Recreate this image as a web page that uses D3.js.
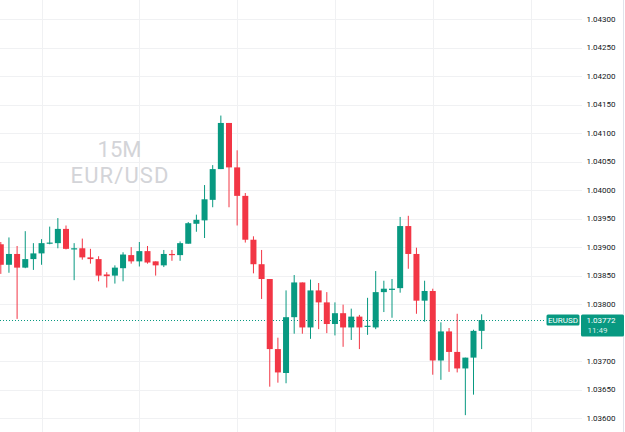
<!DOCTYPE html>
<html lang="en">
<head>
    <meta charset="UTF-8">
    <title>EURUSD 15M</title>
    <script src="https://d3js.org/d3.v7.min.js"></script>
    <style>
        html, body { margin: 0; padding: 0; background: #fff; }
        svg { display: block; font-family: Roboto, "DejaVu Sans", sans-serif; }
        .grid { stroke: #f0f1f3; stroke-width: 1; shape-rendering: crispEdges; }
        .tick-label { font-size: 8px; fill: #131722; dominant-baseline: central; }
        .watermark { font-size: 22px; fill: #d3d4d8; text-anchor: middle; }
        .tag { font-size: 8px; fill: #fff; dominant-baseline: central; }
    </style>
</head>
<body>
<svg id="chart"></svg>
<script>
    // 15 minute candles, oldest first
    const opens  = [1.03905, 1.03869, 1.03888, 1.03864, 1.03879, 1.03889, 1.03906, 1.03907, 1.03932, 1.03896,
                    1.03898, 1.03882, 1.03879, 1.03852, 1.03850, 1.03863, 1.03886, 1.03875, 1.03893, 1.03875,
                    1.03868, 1.03888, 1.03886, 1.03906, 1.03941, 1.03947, 1.03983, 1.04037, 1.04118, 1.04040,
                    1.03990, 1.03913, 1.03870, 1.03844, 1.03721, 1.03679, 1.03777, 1.03838, 1.03759, 1.03824,
                    1.03803, 1.03765, 1.03784, 1.03759, 1.03778, 1.03760, 1.03759, 1.03821, 1.03825, 1.03828,
                    1.03937, 1.03888, 1.03806, 1.03823, 1.03701, 1.03752, 1.03716, 1.03687, 1.03706, 1.03753];
    const highs  = [1.03909, 1.03917, 1.03902, 1.03928, 1.03907, 1.03914, 1.03936, 1.03951, 1.03938, 1.03907,
                    1.03915, 1.03897, 1.03884, 1.03856, 1.03868, 1.03891, 1.03900, 1.03909, 1.03902, 1.03875,
                    1.03895, 1.03895, 1.03910, 1.03944, 1.03957, 1.04009, 1.04044, 1.04131, 1.04118, 1.04070,
                    1.03995, 1.03919, 1.03895, 1.03844, 1.03741, 1.03824, 1.03851, 1.03838, 1.03843, 1.03837,
                    1.03821, 1.03803, 1.03799, 1.03792, 1.03781, 1.03811, 1.03858, 1.03841, 1.03844, 1.03953,
                    1.03955, 1.03899, 1.03841, 1.03827, 1.03768, 1.03758, 1.03783, 1.03706, 1.03755, 1.03782];
    const lows   = [1.03853, 1.03855, 1.03774, 1.03863, 1.03860, 1.03869, 1.03905, 1.03898, 1.03896, 1.03842,
                    1.03878, 1.03871, 1.03840, 1.03829, 1.03836, 1.03840, 1.03871, 1.03866, 1.03871, 1.03850,
                    1.03865, 1.03876, 1.03876, 1.03906, 1.03927, 1.03916, 1.03970, 1.04037, 1.03970, 1.03938,
                    1.03908, 1.03854, 1.03809, 1.03655, 1.03662, 1.03661, 1.03748, 1.03748, 1.03739, 1.03756,
                    1.03749, 1.03745, 1.03725, 1.03737, 1.03721, 1.03746, 1.03756, 1.03786, 1.03776, 1.03820,
                    1.03862, 1.03783, 1.03769, 1.03676, 1.03667, 1.03681, 1.03680, 1.03605, 1.03641, 1.03721];
    const closes = [1.03869, 1.03888, 1.03864, 1.03879, 1.03889, 1.03907, 1.03908, 1.03932, 1.03897, 1.03898,
                    1.03882, 1.03879, 1.03850, 1.03849, 1.03864, 1.03887, 1.03875, 1.03893, 1.03873, 1.03868,
                    1.03888, 1.03886, 1.03907, 1.03942, 1.03948, 1.03984, 1.04037, 1.04118, 1.04040, 1.03990,
                    1.03913, 1.03870, 1.03844, 1.03721, 1.03680, 1.03777, 1.03838, 1.03759, 1.03824, 1.03803,
                    1.03765, 1.03784, 1.03759, 1.03778, 1.03759, 1.03762, 1.03821, 1.03827, 1.03827, 1.03937,
                    1.03888, 1.03806, 1.03823, 1.03701, 1.03752, 1.03716, 1.03687, 1.03706, 1.03753, 1.03772];

    const priceTicks = [1.036, 1.0365, 1.037, 1.0375, 1.038, 1.0385, 1.039, 1.0395,
                        1.040, 1.0405, 1.041, 1.0415, 1.042, 1.0425, 1.043];
    // candle indexes where the time grid falls (every 3 hours)
    const timeGrid = [5, 17, 29, 41, 53, 65];

    const symbol = "EURUSD";
    const lastPrice = 1.03772;
    const countdown = "11:49";
    const watermark = ["15M", "EUR/USD"];

    const width = 625, height = 432;
    const paneRight = 582;
    const up = "#089981", down = "#f23645";

    const svg = d3.select("#chart").attr("width", width).attr("height", height);

    const candles = opens.map((o, i) => ({ i, o, h: highs[i], l: lows[i], c: closes[i] }));

    const x = d3.scaleLinear().domain([0, 59]).range([0.8, 481.65]);
    const y = d3.scaleLinear().domain([1.036, 1.043]).range([418, 19.3]);

    // grid
    svg.append("g").selectAll("line")
        .data(priceTicks)
        .enter().append("line")
        .attr("class", "grid")
        .attr("x1", 0).attr("x2", paneRight)
        .attr("y1", d => Math.round(y(d)) + 0.5)
        .attr("y2", d => Math.round(y(d)) + 0.5);

    svg.append("g").selectAll("line")
        .data(timeGrid)
        .enter().append("line")
        .attr("class", "grid")
        .attr("x1", d => Math.round(x(d)) + 0.5)
        .attr("x2", d => Math.round(x(d)) + 0.5)
        .attr("y1", 0).attr("y2", height);

    // watermark
    svg.append("text").attr("class", "watermark")
        .attr("x", 119.5).attr("y", 157)
        .attr("textLength", 44).attr("lengthAdjust", "spacing")
        .text(watermark[0]);
    svg.append("text").attr("class", "watermark")
        .attr("x", 119.5).attr("y", 183)
        .attr("textLength", 98).attr("lengthAdjust", "spacing")
        .text(watermark[1]);

    // last price dotted line
    svg.append("line")
        .attr("x1", 0).attr("x2", 546)
        .attr("y1", Math.round(y(lastPrice)) + 0.5)
        .attr("y2", Math.round(y(lastPrice)) + 0.5)
        .attr("stroke", up)
        .attr("stroke-width", 1)
        .attr("stroke-dasharray", "1,2");

    // candles
    const g = svg.append("g");
    g.selectAll(".wick")
        .data(candles)
        .enter().append("line")
        .attr("class", "wick")
        .attr("x1", d => x(d.i)).attr("x2", d => x(d.i))
        .attr("y1", d => y(d.h)).attr("y2", d => y(d.l))
        .attr("stroke", d => d.c >= d.o ? up : down)
        .attr("stroke-width", 1);

    g.selectAll(".body")
        .data(candles)
        .enter().append("rect")
        .attr("class", "body")
        .attr("x", d => x(d.i) - 3)
        .attr("width", 6)
        .attr("y", d => y(Math.max(d.o, d.c)))
        .attr("height", d => Math.max(1.2, Math.abs(y(d.o) - y(d.c))))
        .attr("fill", d => d.c >= d.o ? up : down);

    // price scale, labels under the last price tag are hidden like on the chart
    const ly = y(lastPrice);
    const tagTop = ly - 5.5, tagBottom = ly + 16.5;
    svg.append("g").selectAll("text")
        .data(priceTicks.filter(d => y(d) + 4 < tagTop || y(d) - 4 > tagBottom))
        .enter().append("text")
        .attr("class", "tick-label")
        .attr("x", 586.5)
        .attr("y", d => y(d))
        .text(d => d.toFixed(5));

    svg.append("line")
        .attr("x1", 623.5).attr("x2", 623.5)
        .attr("y1", 0).attr("y2", height)
        .attr("stroke", "#e0e3eb");

    // symbol + last price tags
    svg.append("rect")
        .attr("x", 546.5).attr("y", tagTop)
        .attr("width", 33).attr("height", 11)
        .attr("rx", 1.5).attr("fill", up);
    svg.append("text").attr("class", "tag")
        .attr("x", 563).attr("y", ly + 0.3)
        .attr("text-anchor", "middle")
        .text(symbol);

    svg.append("rect")
        .attr("x", 581).attr("y", tagTop)
        .attr("width", 43).attr("height", tagBottom - tagTop)
        .attr("rx", 1.5).attr("fill", up);
    svg.append("text").attr("class", "tag")
        .attr("x", 586.5).attr("y", ly + 0.8)
        .text(lastPrice.toFixed(5));
    svg.append("text").attr("class", "tag")
        .attr("x", 587.5).attr("y", ly + 10.5)
        .attr("fill-opacity", 0.85)
        .text(countdown);
</script>
</body>
</html>
